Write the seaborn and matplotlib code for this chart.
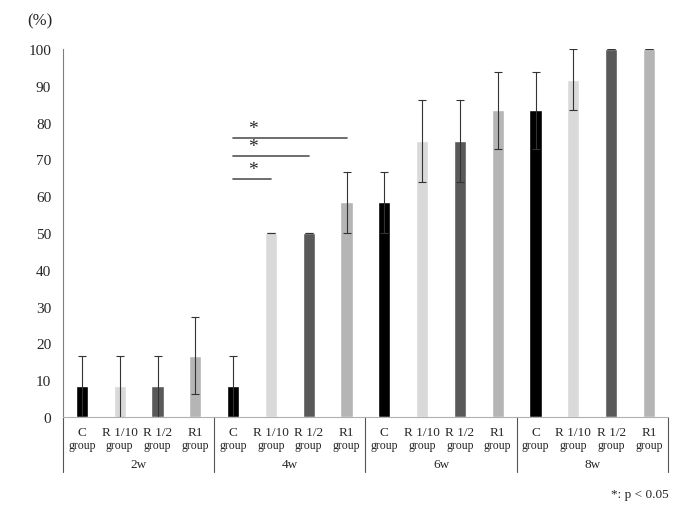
import numpy as np
import pandas as pd
import matplotlib
matplotlib.use("Agg")
import matplotlib.pyplot as plt
import seaborn as sns

# data
weeks = ["2w", "4w", "6w", "8w"]
groups = ["C", "R 1/10", "R 1/2", "R1"]
values = [8.3, 8.3, 8.3, 16.7,
          8.3, 50.0, 50.0, 58.3,
          58.3, 75.0, 75.0, 83.3,
          83.3, 91.7, 100.0, 100.0]
errors = [8.3, 8.3, 8.3, 10.5,
          8.3, 0.0, 0.0, 8.3,
          8.3, 11.2, 11.2, 10.5,
          10.5, 8.3, 0.0, 0.0]
colors = ["#000000", "#d9d9d9", "#595959", "#b5b5b5"]

# significance brackets in 4w: (from group, to group, height)
sig_pairs = [("C", "R 1/10", 64.7), ("C", "R 1/2", 70.9), ("C", "R1", 75.8)]

sns.set_style("white")
plt.rcParams["font.family"] = ["Liberation Serif", "DejaVu Serif"]

df = pd.DataFrame({
    "slot": [f"{w} {g}" for w in weeks for g in groups],
    "group": [g for w in weeks for g in groups],
    "value": values,
    "err": errors,
})

fig = plt.figure(figsize=(7, 5.1), dpi=100)
ax = fig.add_axes([0.09, 0.1804, 0.864, 0.7216])

sns.barplot(data=df, x="slot", y="value", hue="group", palette=colors,
            dodge=False, width=0.32, legend=False, ax=ax, saturation=1)

xs = np.arange(len(df))
ax.errorbar(xs, df["value"], yerr=df["err"], fmt="none", ecolor="#333333",
            elinewidth=0.8, capsize=3, capthick=0.8)

ax.set_ylim(0, 100)
ax.set_xlim(-0.5, len(df) - 0.5)
ax.set_yticks(range(0, 101, 10))
ax.tick_params(axis="y", labelsize=11, length=0, pad=8.5)
ax.set_xticks([])
ax.set_xlabel("")
ax.set_ylabel("")
for s in ["top", "right"]:
    ax.spines[s].set_visible(False)
ax.spines["left"].set_color("#7f7f7f")
ax.spines["left"].set_linewidth(0.8)
ax.spines["bottom"].set_color("#b0b0b0")
ax.spines["bottom"].set_linewidth(0.8)

# category axis: group labels, week labels, separators
tr = ax.get_xaxis_transform()
for i, row in df.iterrows():
    ax.text(i, -0.040, row["group"], transform=tr, ha="center", va="center",
            fontsize=9.5)
    ax.text(i, -0.076, "group", transform=tr, ha="center", va="center",
            fontsize=8.5)
for k, w in enumerate(weeks):
    ax.text(4 * k + 1.5, -0.128, w, transform=tr, ha="center", va="center",
            fontsize=9.5)
for k in range(len(weeks) + 1):
    ax.plot([4 * k - 0.5] * 2, [0, -0.15], transform=tr, color="#555555",
            lw=0.8, clip_on=False)

# significance lines
base = 4
for g1, g2, h in sig_pairs:
    x1 = base + groups.index(g1)
    x2 = base + groups.index(g2)
    ax.plot([x1, x2], [h, h], color="#555555", lw=1.2)
    ax.text(x1 + 0.52, h + 2.6, "*", ha="center", va="center", fontsize=14)

fig.text(0.057, 0.959, "(%)", fontsize=12, ha="center", va="center")
fig.text(0.955, 0.03, "*: p < 0.05", fontsize=9.5, ha="right", va="center")

fig.savefig("out.png", dpi=100)
